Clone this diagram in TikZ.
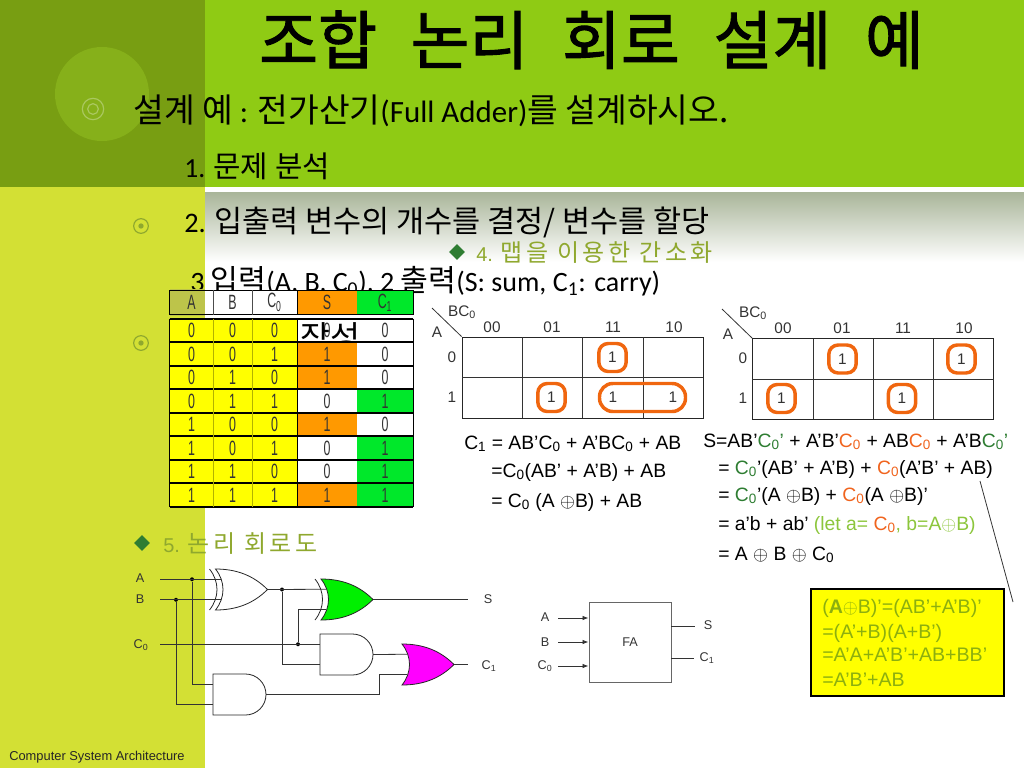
\documentclass[tikz,border=0pt]{standalone}
\usepackage{fontspec}
\usepackage{tikz}
\usetikzlibrary{positioning, arrows.meta, shapes.geometric}
\setmainfont{Carlito}
\newfontfamily\krfont[Scale=1.08]{Noto Sans CJK KR}
\newfontfamily\krwide[Scale=1.2, LetterSpace=15]{Noto Sans CJK KR}
\newfontfamily\titlefont[WordSpace=2.35, FakeBold=1.5]{Noto Sans CJK KR}
\newfontfamily\arialfont{Liberation Sans}
\newfontfamily\condfont[FakeStretch=0.6]{Liberation Sans}
\newcommand{\kr}[1]{{\krfont #1}}
\newcommand{\sbs}[1]{\textsubscript{#1}}
\newcommand{\xo}{$\oplus$}
\definecolor{bandgreen}{HTML}{8FCB14}
\definecolor{darkgreen}{HTML}{789E12}
\definecolor{discgreen}{HTML}{86B01A}
\definecolor{stripgreen}{HTML}{D3E034}
\definecolor{bulletgreen}{HTML}{8FA82E}
\definecolor{greytop}{HTML}{A9B599}
\definecolor{hdrolive}{HTML}{BDC44A}
\definecolor{tabyellow}{HTML}{FFFF00}
\definecolor{taborange}{HTML}{FF9900}
\definecolor{tabgreen}{HTML}{00E82A}
\definecolor{looporange}{HTML}{F0660F}
\definecolor{termgreen}{HTML}{2E7D32}
\definecolor{termorange}{HTML}{F0641E}
\definecolor{letgreen}{HTML}{8CC63C}
\definecolor{boxolive}{HTML}{8CAF0F}
\definecolor{wiregrey}{HTML}{333333}
\definecolor{gategreen}{HTML}{00F000}
\definecolor{gatemagenta}{HTML}{FF00FF}
\tikzset{
 bodytext/.style={inner sep=0, anchor=base west, font=\fontsize{20.7}{25}\selectfont},
 headtext/.style={inner sep=0, anchor=base west, text=bulletgreen, font=\fontsize{15}{18}\selectfont\arialfont},
 eqtext/.style={inner sep=0, anchor=base west, font=\fontsize{14.5}{17}\selectfont\arialfont},
 boxtext/.style={inner sep=0, anchor=base west, text=boxolive, font=\fontsize{14.7}{17}\selectfont\arialfont},
 smalltext/.style={inner sep=0, text=wiregrey, font=\fontsize{9.5}{11}\selectfont\arialfont},
 maptext/.style={inner sep=0, text=wiregrey, font=\fontsize{11.5}{14}\selectfont\arialfont},
 tabcell/.style={inner sep=0, minimum height=17.625pt, text=black!80, font=\fontsize{15.5}{18}\selectfont\condfont},
 cola/.style={tabcell, minimum width=32.25pt},
 colb/.style={tabcell, minimum width=29.25pt},
 colc/.style={tabcell, minimum width=33.75pt},
 cols/.style={tabcell, minimum width=45pt},
 colt/.style={tabcell, minimum width=42pt},
 tabrule/.style={draw=black, line width=1.4pt},
 kmap/.style={draw=black!85, line width=0.6pt, minimum width=180.75pt, minimum height=60.75pt, inner sep=0},
 orangeloop/.style={draw=looporange, line width=2.6pt, rounded corners=7pt, inner sep=0, minimum width=20.5pt, minimum height=21pt, text=wiregrey, font=\fontsize{11.5}{14}\selectfont\arialfont},
 wire/.style={draw=wiregrey, line width=0.6pt},
 wiredot/.style={circle, fill=black, inner sep=0, minimum size=3pt},
 gateline/.style={draw=black!85, line width=0.6pt},
 bulletdiamond/.style={diamond, fill=termgreen, inner sep=0, minimum size=12pt},
 bulletring/.style={circle, draw=bulletgreen, line width=0.9pt, inner sep=0, minimum size=11pt},
 bulletdot/.style={circle, fill=bulletgreen, inner sep=0, minimum size=4pt},
 pics/orshape/.style={code={
  \path[gateline, pic actions] (-26,-20.5) .. controls (-5,-20.5) and (12,-14) .. (26,0) .. controls (12,14) and (-5,20.5) .. (-26,20.5) .. controls (-16,8) and (-16,-8) .. (-26,-20.5) -- cycle;
  \coordinate (-in1) at (-20.6,-10.25);
  \coordinate (-in2) at (-20.6,10.25);
  \coordinate (-out) at (26,0);
 }},
 pics/xorshape/.style={code={
  \path[gateline, pic actions] (-26,-20.5) .. controls (-5,-20.5) and (12,-14) .. (26,0) .. controls (12,14) and (-5,20.5) .. (-26,20.5) .. controls (-16,8) and (-16,-8) .. (-26,-20.5) -- cycle;
  \draw[gateline] (-32,-20.5) .. controls (-22,-8) and (-22,8) .. (-32,20.5);
  \coordinate (-in1) at (-20.6,-10.25);
  \coordinate (-in2) at (-20.6,10.25);
  \coordinate (-out) at (26,0);
 }},
 pics/andshape/.style={code={
  \path[gateline, pic actions] (-26.5,-20.5) -- (6,-20.5) .. controls (17.3,-20.5) and (26.5,-11.3) .. (26.5,0) .. controls (26.5,11.3) and (17.3,20.5) .. (6,20.5) -- (-26.5,20.5) -- cycle;
  \coordinate (-in1) at (-26.5,-10.25);
  \coordinate (-in2) at (-26.5,10.25);
  \coordinate (-out) at (26.5,0);
 }}
}
\begin{document}
\begin{tikzpicture}[x=0.75pt, y=-0.75pt]
 \useasboundingbox (0,0) rectangle (1024,768);

 \fill[bandgreen] (205,0) rectangle (1024,187);
 \fill[darkgreen] (0,0) rectangle (205,187);
 \fill[stripgreen] (0,187) rectangle (205,768);
 \shade[top color=greytop, bottom color=white] (205,192) rectangle (1024,262);
 \fill[discgreen] (102,94) circle (47);

 \node[bulletring, draw=discgreen!70!white, minimum size=16pt] (ringa) at (93,109) {};
 \node[bulletring, draw=discgreen!70!white, minimum size=8pt] (ringb) at (93,109) {};
 \node[bulletring] (ringc) at (141,226) {};
 \node[bulletdot] (dotc) at (141,226) {};
 \node[bulletring] (ringd) at (141,343) {};
 \node[bulletdot] (dotd) at (141,343) {};

 \node[inner sep=0, anchor=base west, font=\fontsize{48}{58}\selectfont\titlefont] (title) at (259,64) {조합 논리 회로 설계 예};

 \node[bodytext, font=\fontsize{23.2}{28}\selectfont] (line1) at (133,122) {\kr{설계 예} : \kr{전가산기}(Full Adder)\kr{를 설계하시오.}};
 \node[bodytext] (line2) at (184,177) {1. \kr{문제 분석}};
 \node[bodytext, font=\fontsize{21.2}{25}\selectfont] (line3) at (184,232) {2. \kr{입출력 변수의 개수를 결정/ 변수를 할당}};
 \node[bodytext, font=\fontsize{21}{25}\selectfont] (line4) at (190,291) {3 \kr{입력}(A, B, C\sbs{0}), 2 \kr{출력}(S: sum, C\sbs{1}: carry)};

 \node[bulletdiamond] (headd) at (457,252) {};
 \node[headtext] (head4) at (476,261) {4. {\krwide 맵을 이용한 간소화}};
 \node[bulletdiamond] (heade) at (142,543) {};
 \node[headtext] (head5) at (163,552) {5. {\krwide 논리 회로도}};

 \node[cola, fill=white] (ha) at (191.5,302.5) {};
 \fill[hdrolive] (170,289) rectangle (205,316);
 \node[cola] (hat) at (191.5,302.5) {A};
 \node[colb, fill=white] (hb) at (232.5,302.5) {B};
 \node[colc, fill=white] (hc) at (274.5,302.5) {C\sbs{0}};
 \node[cols, fill=taborange] (hs) at (327,302.5) {S};
 \node[colt, fill=tabgreen] (ht) at (385,302.5) {C\sbs{1}};
 \draw[black, line width=1pt] (ha.north west) rectangle (ht.south east);
 \draw[black!70, line width=0.5pt] (ha.north east) -- (ha.south east);
 \draw[black!70, line width=0.5pt] (hb.north east) -- (hb.south east);
 \draw[black, line width=1pt] (hc.north east) -- (hc.south east);

 \node[cola, fill=tabyellow] (r1a) at (191.5,330.75) {0};
 \node[colb, fill=tabyellow] (r1b) at (232.5,330.75) {0};
 \node[colc, fill=tabyellow] (r1c) at (274.5,330.75) {0};
 \node[cols, fill=white] (r1s) at (327,330.75) {0};
 \node[colt, fill=white] (r1t) at (385,330.75) {0};
 \node[bodytext, font=\fontsize{22.6}{27}\selectfont] (line4b) at (300,349) {\kr{작성}};
 \node[cola, fill=tabyellow] (r2a) at (191.5,354.25) {0};
 \node[colb, fill=tabyellow] (r2b) at (232.5,354.25) {0};
 \node[colc, fill=tabyellow] (r2c) at (274.5,354.25) {1};
 \node[cols, fill=taborange] (r2s) at (327,354.25) {1};
 \node[colt, fill=white] (r2t) at (385,354.25) {0};
 \node[cola, fill=tabyellow] (r3a) at (191.5,377.75) {0};
 \node[colb, fill=tabyellow] (r3b) at (232.5,377.75) {1};
 \node[colc, fill=tabyellow] (r3c) at (274.5,377.75) {0};
 \node[cols, fill=taborange] (r3s) at (327,377.75) {1};
 \node[colt, fill=white] (r3t) at (385,377.75) {0};
 \node[cola, fill=tabyellow] (r4a) at (191.5,401.25) {0};
 \node[colb, fill=tabyellow] (r4b) at (232.5,401.25) {1};
 \node[colc, fill=tabyellow] (r4c) at (274.5,401.25) {1};
 \node[cols, fill=white] (r4s) at (327,401.25) {0};
 \node[colt, fill=tabgreen] (r4t) at (385,401.25) {1};
 \node[cola, fill=tabyellow] (r5a) at (191.5,424.75) {1};
 \node[colb, fill=tabyellow] (r5b) at (232.5,424.75) {0};
 \node[colc, fill=tabyellow] (r5c) at (274.5,424.75) {0};
 \node[cols, fill=taborange] (r5s) at (327,424.75) {1};
 \node[colt, fill=white] (r5t) at (385,424.75) {0};
 \node[cola, fill=tabyellow] (r6a) at (191.5,448.25) {1};
 \node[colb, fill=tabyellow] (r6b) at (232.5,448.25) {0};
 \node[colc, fill=tabyellow] (r6c) at (274.5,448.25) {1};
 \node[cols, fill=white] (r6s) at (327,448.25) {0};
 \node[colt, fill=tabgreen] (r6t) at (385,448.25) {1};
 \node[cola, fill=tabyellow] (r7a) at (191.5,471.75) {1};
 \node[colb, fill=tabyellow] (r7b) at (232.5,471.75) {1};
 \node[colc, fill=tabyellow] (r7c) at (274.5,471.75) {0};
 \node[cols, fill=white] (r7s) at (327,471.75) {0};
 \node[colt, fill=tabgreen] (r7t) at (385,471.75) {1};
 \node[cola, fill=tabyellow] (r8a) at (191.5,495.25) {1};
 \node[colb, fill=tabyellow] (r8b) at (232.5,495.25) {1};
 \node[colc, fill=tabyellow] (r8c) at (274.5,495.25) {1};
 \node[cols, fill=taborange] (r8s) at (327,495.25) {1};
 \node[colt, fill=tabgreen] (r8t) at (385,495.25) {1};

 \draw[tabrule] (r1a.north west) -- (r1t.north east);
 \draw[tabrule] (r2a.north west) -- (r2t.north east);
 \draw[tabrule] (r3a.north west) -- (r3t.north east);
 \draw[tabrule] (r4a.north west) -- (r4t.north east);
 \draw[tabrule] (r5a.north west) -- (r5t.north east);
 \draw[tabrule] (r6a.north west) -- (r6t.north east);
 \draw[tabrule] (r7a.north west) -- (r7t.north east);
 \draw[tabrule] (r8a.north west) -- (r8t.north east);
 \draw[tabrule] (r8a.south west) -- (r8t.south east);
 \draw[tabrule, line width=1pt] (r1a.north west) -- (r8a.south west);
 \draw[tabrule, line width=1pt] (r1c.north east) -- (r8c.south east);
 \draw[tabrule, line width=1pt] (r1t.north east) -- (r8t.south east);
 \draw[tabyellow!70!black, line width=0.4pt] (r1a.north east) -- (r8a.south east);
 \draw[tabyellow!70!black, line width=0.4pt] (r1b.north east) -- (r8b.south east);

 \coordinate (mapcc) at (432,308);
 \node[kmap] (mapc) at (582.5,377.5) {};
 \draw[wire] (mapcc) -- (mapc.north west);
 \draw[wire] (522,337) -- (522,418);
 \draw[wire] (582,337) -- (582,418);
 \draw[wire] (643,337) -- (643,418);
 \draw[wire] (462,377) -- (703,377);
 \node[maptext] (cbc) at (462,312) {BC\sbs{0}};
 \node[maptext] (ca) at (437,332) {A};
 \node[maptext] (c00) at (492,327) {00};
 \node[maptext] (c01) at (552,327) {01};
 \node[maptext] (c11) at (613,327) {11};
 \node[maptext] (c10) at (674,327) {10};
 \node[maptext] (cr0) at (452,357) {0};
 \node[maptext] (cr1) at (452,397) {1};
 \node[orangeloop] (cl1) at (612.5,357.5) {1};
 \node[orangeloop] (cl2) at (551.5,397.5) {1};
 \node[orangeloop, minimum width=64.5pt, rounded corners=10pt] (cl3) at (642.5,397.5) {};
 \node[maptext] (cv1) at (613,397) {1};
 \node[maptext] (cv2) at (673,397) {1};

 \coordinate (mapsc) at (722,309);
 \node[kmap] (maps) at (873,379) {};
 \draw[wire] (mapsc) -- (maps.north west);
 \draw[wire] (813,339) -- (813,419);
 \draw[wire] (873,339) -- (873,419);
 \draw[wire] (933,339) -- (933,419);
 \draw[wire] (752,379) -- (994,379);
 \node[maptext] (sbc) at (753,313) {BC\sbs{0}};
 \node[maptext] (sa) at (728,334) {A};
 \node[maptext] (s00) at (783,328) {00};
 \node[maptext] (s01) at (842,328) {01};
 \node[maptext] (s11) at (903,328) {11};
 \node[maptext] (s10) at (964,328) {10};
 \node[maptext] (sr0) at (743,358) {0};
 \node[maptext] (sr1) at (743,398) {1};
 \node[orangeloop] (sl1) at (842.5,359) {1};
 \node[orangeloop] (sl2) at (961.5,359) {1};
 \node[orangeloop] (sl3) at (781.5,398.5) {1};
 \node[orangeloop] (sl4) at (902,398.5) {1};

 \node[eqtext] (c1a) at (464,449) {C\sbs{1} = AB’C\sbs{0} + A’BC\sbs{0} + AB};
 \node[eqtext] (c1b) at (491,477) {=C\sbs{0}(AB’ + A’B) + AB};
 \node[eqtext] (c1c) at (491,507) {= C\sbs{0} (A \xo B) + AB};

 \node[eqtext] (sa1) at (703,447) {S=AB’\textcolor{termgreen}{C\sbs{0}’} + A’B’\textcolor{termorange}{C\sbs{0}} + AB\textcolor{termorange}{C\sbs{0}} + A’B\textcolor{termgreen}{C\sbs{0}’}};
 \node[eqtext] (sa2) at (718,474) {= \textcolor{termgreen}{C\sbs{0}}’(AB’ + A’B) + \textcolor{termorange}{C\sbs{0}}(A’B’ + AB)};
 \node[eqtext] (sa3) at (718,501) {= \textcolor{termgreen}{C\sbs{0}}’(A \xo B) + \textcolor{termorange}{C\sbs{0}}(A \xo B)’};
 \node[eqtext] (sa4) at (718,530) {= a’b + ab’ \textcolor{letgreen}{(let a= }\textcolor{termorange}{C\sbs{0}}\textcolor{letgreen}{, b=A\xo B)}};
 \node[eqtext] (sa5) at (718,560) {= A \xo{} B \xo{} C\sbs{0}};

 \node[draw=black, line width=0.8pt, fill=tabyellow, minimum width=144.75pt, minimum height=80.25pt, inner sep=0] (yellowbox) at (907.5,642.5) {};
 \node[boxtext] (b1) at (822,613) {(\textbf{A}\xo B)’=(AB’+A’B)’};
 \node[boxtext] (b2) at (822,638) {=(A’+B)(A+B’)};
 \node[boxtext] (b3) at (822,661) {=A’A+A’B’+AB+BB’};
 \node[boxtext] (b4) at (822,686) {=A’B’+AB};
 \coordinate (notetop) at (980,481);
 \coordinate (notebot) at (1013,602);
 \draw[wire] (notetop) -- (notebot);

 \pic (xora) at (241.5,589.5) {xorshape};
 \pic[fill=gategreen] (xorb) at (347,599.5) {xorshape};
 \pic (anda) at (346.5,654.5) {andshape};
 \pic (andb) at (239.5,694.5) {andshape};
 \pic[fill=gatemagenta] (orc) at (428,664.5) {orshape};

 \node[smalltext] (la) at (140,578) {A};
 \node[smalltext] (lb) at (140,599) {B};
 \node[smalltext] (lc) at (141,645) {C\sbs{0}};
 \node[smalltext] (ls) at (488,599) {S};
 \node[smalltext] (lt) at (489,666) {C\sbs{1}};

 \coordinate (ina) at (160,579.25);
 \coordinate (inb) at (160,599.75);
 \coordinate (inc) at (160,644.25);
 \coordinate (outs) at (468,599.5);
 \coordinate (outt) at (468,664.5);
 \node[wiredot] (dota) at (192,579.25) {};
 \node[wiredot] (dotb) at (176,599.75) {};
 \node[wiredot] (dotx) at (282,589.5) {};
 \node[wiredot] (dotn) at (298,644.25) {};

 \draw[wire] (ina) -- (xora-in1);
 \draw[wire] (inb) -- (xora-in2);
 \draw[wire] (inc) -- (anda-in1);
 \draw[wire] (xora-out) -- (xorb-in1);
 \draw[wire] (dotx) |- (anda-in2);
 \draw[wire] (dotn) |- (xorb-in2);
 \draw[wire] (dota) |- (andb-in1);
 \draw[wire] (dotb) |- (andb-in2);
 \draw[wire] (xorb-out) -- (outs);
 \draw[wire] (anda-out) -- (orc-in1);
 \draw[wire] (andb-out) -| (379,674.75) -- (orc-in2);
 \draw[wire] (orc-out) -- (outt);

 \node[draw=black!60, line width=0.7pt, minimum width=61.5pt, minimum height=60pt, inner sep=0, text=wiregrey, font=\fontsize{9.5}{11}\selectfont\arialfont] (fa) at (630,642) {FA};
 \node[smalltext] (fla) at (545,617) {A};
 \node[smalltext] (flb) at (545,642) {B};
 \node[smalltext] (flc) at (545,666) {C\sbs{0}};
 \node[smalltext] (fls) at (708,625) {S};
 \node[smalltext] (flt) at (707,658) {C\sbs{1}};
 \coordinate (faa) at (558,618);
 \coordinate (fab) at (558,642);
 \coordinate (fac) at (558,666);
 \coordinate (fas) at (695,626);
 \coordinate (fat) at (694,658);
 \draw[-{Latex[length=4.5pt]}, wire] (faa) -- (fa.west |- faa);
 \draw[-{Latex[length=4.5pt]}, wire] (fab) -- (fa.west |- fab);
 \draw[-{Latex[length=4.5pt]}, wire] (fac) -- (fa.west |- fac);
 \draw[wire] (fa.east |- fas) -- (fas);
 \draw[wire] (fa.east |- fat) -- (fat);

 \node[inner sep=0, anchor=base west, text=black!85, font=\fontsize{9.66}{11}\selectfont\arialfont] (footer) at (9,760) {Computer System Architecture};
\end{tikzpicture}
\end{document}
